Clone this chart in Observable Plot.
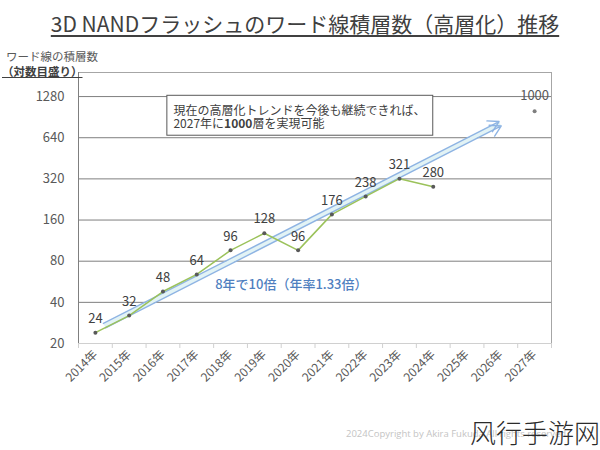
<!DOCTYPE html>
<html>
<head>
<meta charset="utf-8">
<script src="https://cdn.jsdelivr.net/npm/d3@7"></script>
<script src="https://cdn.jsdelivr.net/npm/@observablehq/plot@0.6"></script>
<style>
  html, body { margin: 0; padding: 0; background: #fff; }
  body { width: 600px; height: 450px; position: relative; overflow: hidden; font-family: "Noto Sans CJK JP", "Noto Sans", sans-serif; }
  #header { height: 64px; position: relative; z-index: 2; }
  #chart { position: relative; z-index: 1; }
  #title { position: absolute; left: 0; width: 610px; top: 10px; text-align: center; font-size: 21px; color: #404040; line-height: 26px; }
  #title span { text-decoration: underline; text-decoration-thickness: 2px; text-underline-offset: 3px; }
  #sub1 { position: absolute; left: 6px; top: 49px; font-size: 11.5px; color: #595959; line-height: 14px; white-space: nowrap; }
  #sub2 { position: absolute; left: 2px; top: 64px; font-size: 11.5px; color: #404040; font-weight: bold; line-height: 14px; text-decoration: underline; white-space: nowrap; }
  #credit { position: absolute; left: 346px; top: 427px; font-size: 9.5px; color: #c4c4c4; font-family: "Open Sans", sans-serif; z-index: 3; white-space: nowrap; }
  #wm { position: absolute; left: 470px; top: 413px; font-size: 26px; color: #2b2b2b; font-family: "Noto Sans CJK SC", sans-serif; font-weight: 300; z-index: 4; white-space: nowrap; }
</style>
</head>
<body>
<div id="header">
  <div id="title"><span>3D NANDフラッシュのワード線積層数（高層化）推移</span></div>
  <div id="sub1">ワード線の積層数</div>
  <div id="sub2">（対数目盛り）</div>
</div>
<div id="chart"></div>
<div id="credit">2024Copyright by Akira Fukuda All rights reserved</div>
<div id="wm">风行手游网</div>
<script>
// ---- data ----
const years = [2014, 2015, 2016, 2017, 2018, 2019, 2020, 2021, 2022, 2023, 2024, 2025, 2026, 2027];
const actualYears = [2014, 2015, 2016, 2017, 2018, 2019, 2020, 2021, 2022, 2023, 2024];
const actualLayers = [24, 32, 48, 64, 96, 128, 96, 176, 238, 321, 280];
const forecastYears = [2027];
const forecastLayers = [1000];
const yTicks = [20, 40, 80, 160, 320, 640, 1280];
// trend arrow (year, layers) start and end
const trendYears = [2014.27, 2025.98];
const trendLayers = [27, 810];
const trendLabel = "8年で10倍（年率1.33倍）";
const trendLabelPos = [2019.8, 54];
// note box
const noteText = "現在の高層化トレンドを今後も継続できれば、\n2027年に1000層を実現可能";
const noteBoxYears = [2016.13, 2024.0];
const noteBoxLayers = [662, 1297];
const noteTextPos = [2016.31, 905];

const actual = actualYears.map((y, i) => ({year: y, v: actualLayers[i]}));
const forecast = forecastYears.map((y, i) => ({year: y, v: forecastLayers[i]}));
const boundaries = d3.range(years.length + 1).map(i => years[0] - 0.5 + i);
const trend = [{x1: trendYears[0], y1: trendLayers[0], x2: trendYears[1], y2: trendLayers[1]}];
const arrowStyle = {x1: "x1", y1: "y1", x2: "x2", y2: "y2", stroke: "#8eb4e3", strokeWidth: 1.4, headLength: 13};

const chart = Plot.plot({
  width: 600,
  height: 386,
  marginTop: 8,
  marginLeft: 78,
  marginRight: 49,
  marginBottom: 107,
  style: {fontFamily: "'Noto Sans CJK JP', sans-serif", background: "transparent"},
  x: {domain: [years[0] - 0.5, years[years.length - 1] + 0.5], axis: null, label: null},
  y: {type: "log", base: 2, domain: [20, 1920], axis: null, label: null},
  marks: [
    Plot.ruleY(yTicks.slice(1), {stroke: "#7f7f7f", strokeWidth: 1}),
    Plot.frame({stroke: "#a6a6a6"}),
    Plot.ruleY([20], {stroke: "#d0d0d0"}),
    Plot.ruleX([boundaries[0]], {stroke: "#7f7f7f"}),
    Plot.axisY(yTicks, {tickSize: 0, tickPadding: 14, fontSize: 13, fill: "#595959", label: null, tickFormat: d => String(d)}),
    Plot.axisX(boundaries, {tickSize: 5, stroke: "#d0d0d0", label: null, tickFormat: () => ""}),
    Plot.axisX(years, {tickSize: 0, tickPadding: 9, tickRotate: -45, fontSize: 12, fill: "#595959", label: null, tickFormat: d => d + "年"}),
    // note box
    Plot.rect([0], {x1: () => noteBoxYears[0], x2: () => noteBoxYears[1], y1: () => noteBoxLayers[0], y2: () => noteBoxLayers[1], fill: "#fff", stroke: "#595959", strokeWidth: 1}),
    Plot.text([noteText], {x: () => noteTextPos[0], y: () => noteTextPos[1], text: d => d, textAnchor: "start", lineAnchor: "middle", lineHeight: 1.1, fontSize: 12, fill: "#404040", className: "note"}),
    // trend arrow (hollow look: light fill between two thin outlines)
    Plot.link(trend, {x1: "x1", y1: "y1", x2: "x2", y2: "y2", stroke: "#e2f3f5", strokeWidth: 4}),
    Plot.arrow(trend, {...arrowStyle, dx: 1.1, dy: 2.2}),
    Plot.arrow(trend, {...arrowStyle, dx: -1.1, dy: -2.2}),
    Plot.text([trendLabel], {x: () => trendLabelPos[0], y: () => trendLabelPos[1], text: d => d, fontSize: 13, fill: "#4f7fbf", fontWeight: 500, textDecoration: "underline"}),
    // actual series
    Plot.line(actual, {x: "year", y: "v", stroke: "#9bc25a", strokeWidth: 1.5}),
    Plot.dot(actual, {x: "year", y: "v", r: 2, fill: "#595959"}),
    Plot.text(actual, {x: "year", y: "v", text: d => String(d.v), dy: -14, fontSize: 13, fill: "#404040"}),
    // forecast
    Plot.dot(forecast, {x: "year", y: "v", r: 2, fill: "#7f7f7f"}),
    Plot.text(forecast, {x: "year", y: "v", text: d => String(d.v), dy: -15, fontSize: 13, fill: "#595959"})
  ]
});
document.getElementById("chart").appendChild(chart);

// bold "1000" in the note: split the second line into sibling tspans that flow inline
d3.select(chart).selectAll(".note tspan").each(function() {
  const t = this.textContent;
  if (t.includes("1000層")) {
    const parts = t.split("1000");
    this.textContent = parts[0];
    const ns = "http://www.w3.org/2000/svg";
    const b = document.createElementNS(ns, "tspan");
    b.setAttribute("font-weight", "bold");
    b.textContent = "1000";
    const rest = document.createElementNS(ns, "tspan");
    rest.textContent = parts[1];
    this.parentNode.insertBefore(rest, this.nextSibling);
    this.parentNode.insertBefore(b, rest);
  }
});
</script>
</body>
</html>
